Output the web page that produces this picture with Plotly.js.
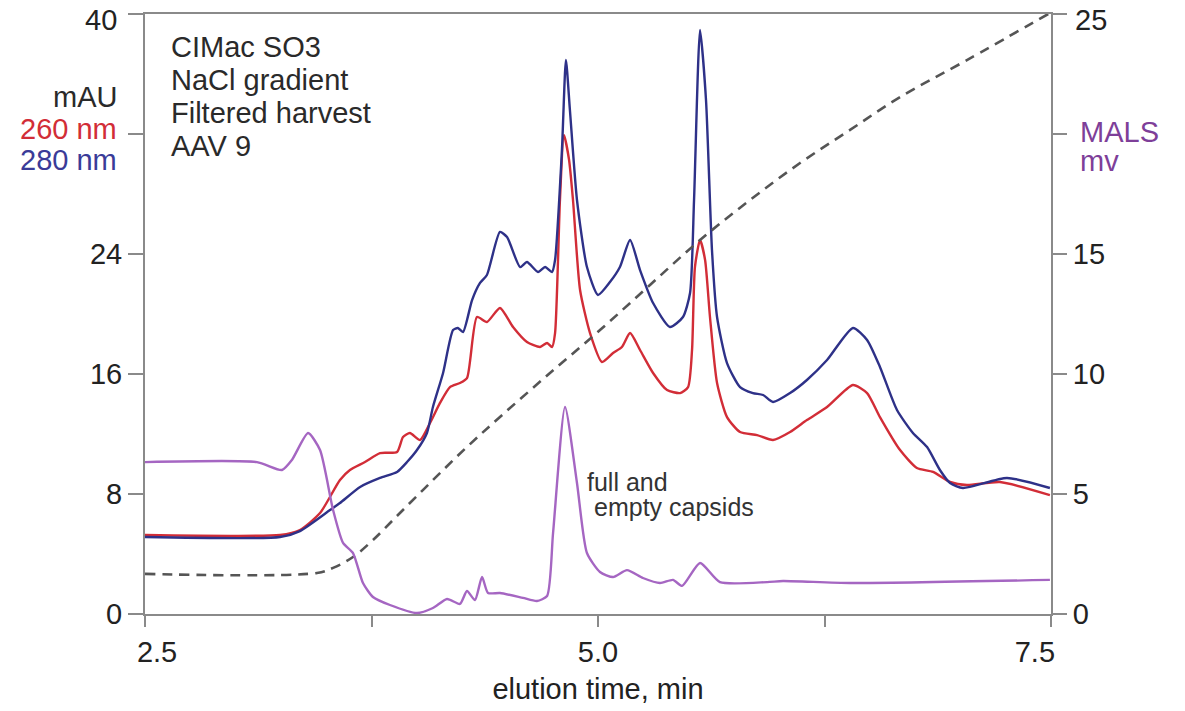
<!DOCTYPE html>
<html>
<head>
<meta charset="utf-8">
<script src="https://cdn.plot.ly/plotly-3.0.1.min.js"></script>
<style>html,body{margin:0;padding:0;background:#fff;}#chart{width:1185px;height:711px;}</style>
</head>
<body>
<div id="chart"></div>
<script>
// 260 nm absorbance (mAU)
const t260 = [2.500,3.245,3.355,3.466,3.576,3.631,3.714,3.797,3.891,3.924,3.962,4.018,4.073,4.128,4.183,4.238,4.277,4.332,4.387,4.459,4.531,4.608,4.680,4.719,4.746,4.763,4.790,4.812,4.840,4.862,4.901,4.956,5.022,5.083,5.132,5.177,5.232,5.304,5.381,5.453,5.497,5.519,5.535,5.563,5.591,5.618,5.657,5.712,5.784,5.878,5.966,6.060,6.153,6.264,6.407,6.485,6.556,6.667,6.760,6.849,6.943,7.036,7.218,7.494];
const a260 = [5.27,5.27,5.60,6.73,8.93,9.60,10.13,10.73,10.80,11.80,12.07,11.60,12.73,14.07,15.13,15.40,15.73,19.80,19.47,20.40,19.13,18.13,17.80,18.07,17.80,18.73,27.6,31.93,30.3,27.6,21.6,18.73,16.8,17.4,17.8,18.73,17.6,16.07,14.93,14.73,15.13,17.6,23.13,24.93,23.6,19.8,15.4,13.13,12.13,11.93,11.6,12.13,12.93,13.8,15.27,14.73,13.13,10.93,9.73,9.47,8.8,8.6,8.8,7.93];

// 280 nm absorbance (mAU)
const t280 = [2.500,3.245,3.355,3.521,3.576,3.687,3.797,3.891,3.946,4.001,4.056,4.089,4.145,4.200,4.227,4.255,4.305,4.349,4.387,4.459,4.498,4.570,4.608,4.669,4.708,4.746,4.763,4.801,4.823,4.845,4.884,4.939,5.000,5.066,5.121,5.177,5.232,5.304,5.397,5.469,5.508,5.530,5.563,5.596,5.629,5.657,5.712,5.784,5.855,5.911,5.966,6.060,6.153,6.264,6.407,6.485,6.556,6.650,6.738,6.816,6.887,6.943,7.014,7.257,7.494];
const a280 = [5.13,5.13,5.53,6.93,7.4,8.47,9.07,9.47,10.13,10.93,12.07,13.8,16.07,18.93,19.07,18.8,20.93,22.07,22.6,25.47,25.13,23.13,23.47,22.8,23.13,22.8,23.6,30.93,36.93,33.6,27.6,23.13,21.27,22.13,23.13,24.93,22.93,20.73,19.13,19.8,21.4,27.6,38.93,34.27,24.27,19.8,16.73,15.13,14.73,14.6,14.13,14.73,15.6,16.93,19.07,18.27,16.47,13.6,12.07,11.13,9.6,8.73,8.4,9.07,8.4];

// MALS signal (mv)
const tMals = [2.500,3.118,3.256,3.311,3.400,3.466,3.538,3.593,3.648,3.703,3.758,3.852,4.001,4.089,4.167,4.238,4.277,4.321,4.360,4.393,4.459,4.586,4.663,4.719,4.752,4.818,4.884,4.939,5.011,5.083,5.160,5.248,5.342,5.414,5.464,5.563,5.673,5.933,6.021,6.391,7.494];
const mals = [6.33,6.33,6.0,6.42,7.54,6.83,4.33,2.96,2.54,1.29,0.71,0.375,0.04,0.25,0.625,0.42,0.96,0.58,1.54,0.875,0.875,0.67,0.54,0.75,3.375,8.625,5.46,2.54,1.75,1.54,1.83,1.5,1.29,1.42,1.17,2.125,1.33,1.33,1.375,1.29,1.42];

// NaCl gradient (plotted against right axis scale)
const tGrad = [2.500,3.449,3.538,3.648,3.758,3.907,4.089,4.277,4.459,4.735,5.011,5.287,5.563,5.839,6.115,6.391,6.667,7.036,7.494];
const grad = [1.67,1.71,1.92,2.375,3.08,4.21,5.58,6.96,8.21,10.04,11.83,13.71,15.58,17.25,18.79,20.17,21.54,23.08,25.04];

// Axis ticks
const xTickVals = [2.5,3.75,5.0,6.25,7.5];
const xTickText = ['\u00a0\u00a0\u00a02.5','','5.0','','7.5\u00a0\u00a0\u00a0\u00a0'];
const yTickVals = [0,8,16,24,32,40];
const yTickText = ['0','8','16','24','','40'];
const y2TickVals = [0,5,10,15,20,25];
const y2TickText = ['0','5','10','15','','25'];

const infoLines = ['CIMac SO3','NaCl gradient','Filtered harvest','AAV 9'];

const FONT = 'Liberation Sans, Arial, Helvetica, sans-serif';
const FS = 29;
const AX = '#8a8a8a';
const RED = '#d22d37', BLUE = '#2e3188', PURPLE = '#a566c2', PURPLE_TXT = '#7e3f99';

const traces = [
  {x: tGrad, y: grad, yaxis: 'y2', mode: 'lines', line: {color: '#555', width: 2.6, dash: '10px,7px', shape: 'spline', smoothing: 1}},
  {x: tMals, y: mals, yaxis: 'y2', mode: 'lines', line: {color: PURPLE, width: 2.4, shape: 'spline', smoothing: 0.6}},
  {x: t260, y: a260, mode: 'lines', line: {color: RED, width: 2.4, shape: 'spline', smoothing: 0.6}},
  {x: t280, y: a280, mode: 'lines', line: {color: BLUE, width: 2.4, shape: 'spline', smoothing: 0.6}}
];

// top-most tick labels are drawn as annotations (nudged down so they stay inside the page)
const nY = yTickVals.length - 1, nY2 = y2TickVals.length - 1;
const yTickTextAxis = yTickText.map((s, i) => i === nY ? '' : s);
const y2TickTextAxis = y2TickText.map((s, i) => i === nY2 ? '' : s);

const ann = [];
ann.push({xref: 'paper', yref: 'y', x: -26/906, y: yTickVals[nY], yshift: -6, xanchor: 'right', yanchor: 'middle', text: yTickText[nY], showarrow: false, font: {family: FONT, size: FS, color: '#222'}});
ann.push({xref: 'paper', yref: 'y2', x: 1 + 22/906, y: y2TickVals[nY2], yshift: -6, xanchor: 'left', yanchor: 'middle', text: y2TickText[nY2], showarrow: false, yaxis: 'y2', font: {family: FONT, size: FS, color: '#222'}});
const infoY = [47, 80, 113, 146];
infoLines.forEach((s, i) => ann.push({xref: 'paper', yref: 'paper', x: 24/906, y: (614-infoY[i])/600, xanchor: 'left', yanchor: 'middle', text: s, showarrow: false, font: {family: FONT, size: FS, color: '#2a2a2a'}}));
const leftLab = [['mAU', '#2a2a2a', 97], ['260 nm', RED, 129], ['280 nm', '#3a3b98', 160]];
leftLab.forEach(l => ann.push({xref: 'paper', yref: 'paper', x: -26/906, y: (614-l[2])/600, xanchor: 'right', yanchor: 'middle', text: l[0], showarrow: false, font: {family: FONT, size: FS, color: l[1]}}));
const rightLab = [['MALS', 132], ['mv', 161]];
rightLab.forEach(l => ann.push({xref: 'paper', yref: 'paper', x: 1 + 27/906, y: (614-l[1])/600, xanchor: 'left', yanchor: 'middle', text: l[0], showarrow: false, font: {family: FONT, size: FS, color: PURPLE_TXT}}));
ann.push({xref: 'paper', yref: 'paper', x: (585-145)/906, y: (614-482)/600, xanchor: 'left', yanchor: 'middle', text: 'full and', showarrow: false, font: {family: FONT, size: 25, color: '#333'}});
ann.push({xref: 'paper', yref: 'paper', x: (592-145)/906, y: (614-507)/600, xanchor: 'left', yanchor: 'middle', text: 'empty capsids', showarrow: false, font: {family: FONT, size: 25, color: '#333'}});

const layout = {
  width: 1185, height: 711,
  margin: {l: 145, r: 134, t: 14, b: 97},
  paper_bgcolor: '#fff', plot_bgcolor: '#fff',
  showlegend: false,
  font: {family: FONT, color: '#222', size: FS},
  xaxis: {
    range: [2.5, 7.5], showgrid: false, zeroline: false,
    showline: true, linecolor: AX, linewidth: 2, mirror: true,
    ticks: 'outside', ticklen: 11, tickwidth: 2, tickcolor: AX,
    tickmode: 'array', tickvals: xTickVals, ticktext: xTickText,
    tickfont: {family: FONT, size: FS, color: '#222'},
    title: {text: 'elution time, min', font: {family: FONT, size: FS, color: '#222'}, standoff: 12}
  },
  yaxis: {
    range: [0, 40], showgrid: false, zeroline: false,
    showline: true, linecolor: AX, linewidth: 2,
    ticks: 'outside', ticklen: 15, tickwidth: 2, tickcolor: AX,
    tickmode: 'array', tickvals: yTickVals, ticktext: yTickTextAxis,
    tickfont: {family: FONT, size: FS, color: '#222'}
  },
  yaxis2: {
    range: [0, 25], overlaying: 'y', side: 'right', showgrid: false, zeroline: false,
    showline: true, linecolor: AX, linewidth: 2,
    ticks: 'outside', ticklen: 14, tickwidth: 2, tickcolor: AX,
    tickmode: 'array', tickvals: y2TickVals, ticktext: y2TickTextAxis,
    tickfont: {family: FONT, size: FS, color: '#222'}
  },
  annotations: ann
};

Plotly.newPlot('chart', traces, layout, {staticPlot: true, displayModeBar: false});
</script>
</body>
</html>
